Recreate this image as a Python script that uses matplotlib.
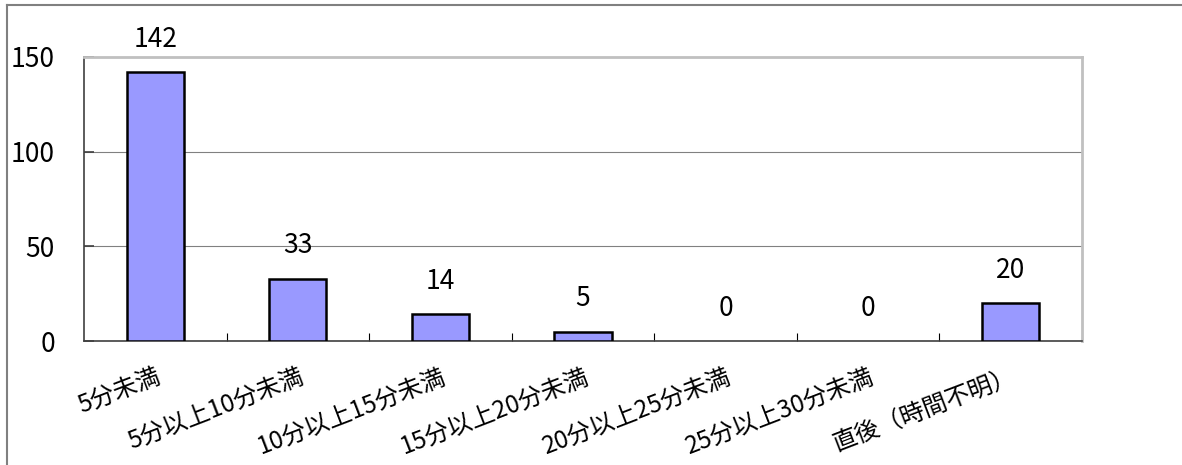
import matplotlib
matplotlib.use("Agg")
import matplotlib.pyplot as plt

plt.rcParams['font.family'] = ['Noto Sans CJK JP', 'DejaVu Sans']

categories = ["5分未満", "5分以上10分未満", "10分以上15分未満", "15分以上20分未満",
              "20分以上25分未満", "25分以上30分未満", "直後（時間不明）"]
values = [142, 33, 14, 5, 0, 0, 20]
yticks = [0, 50, 100, 150]

fig = plt.figure(figsize=(11.82, 4.65), dpi=100)
W, H = 1182, 465
ax = fig.add_axes([84 / W, 1 - 341 / H, (1082 - 84) / W, (341 - 57) / H])

x = list(range(len(categories)))
lws = [1.8 if v > 0 else 0 for v in values]
ax.bar(x, values, width=0.4, color="#9999FF", edgecolor="black", linewidth=lws, zorder=3)
for xi, v in zip(x, values):
    ax.annotate(str(v), (xi, v), xytext=(0, 14), textcoords="offset points",
                ha="center", va="bottom", fontsize=19)

ax.set_xlim(-0.5, len(categories) - 0.5)
ax.set_ylim(0, 150)
ax.set_yticks(yticks)
ax.set_yticklabels([str(t) for t in yticks], fontsize=19)
ax.yaxis.grid(True, color="#808080", linewidth=0.8, zorder=0)
ax.tick_params(axis="y", length=7, width=1.2, pad=21, direction="in", color="#404040")

ax.set_xticks(x)
ax.set_xticklabels(categories, rotation=21, ha="right", rotation_mode="anchor", fontsize=17.5)
ax.tick_params(axis="x", length=0, pad=16)
ax.set_xticks([i + 0.5 for i in x[:-1]], minor=True)
ax.tick_params(axis="x", which="minor", direction="in", length=6, width=0.8)

for side in ["top", "right"]:
    ax.spines[side].set_color("#C0C0C0")
    ax.spines[side].set_linewidth(2)
for side in ["left", "bottom"]:
    ax.spines[side].set_color("#404040")
    ax.spines[side].set_linewidth(1.2)

# outer frame
fig.add_artist(plt.Line2D([7 / W, 1], [1 - 5 / H, 1 - 5 / H], color="#808080", linewidth=1.5,
                          transform=fig.transFigure))
fig.add_artist(plt.Line2D([7 / W, 7 / W], [0, 1 - 5 / H], color="#808080", linewidth=1.5,
                          transform=fig.transFigure))

fig.savefig("out.png", dpi=100)
